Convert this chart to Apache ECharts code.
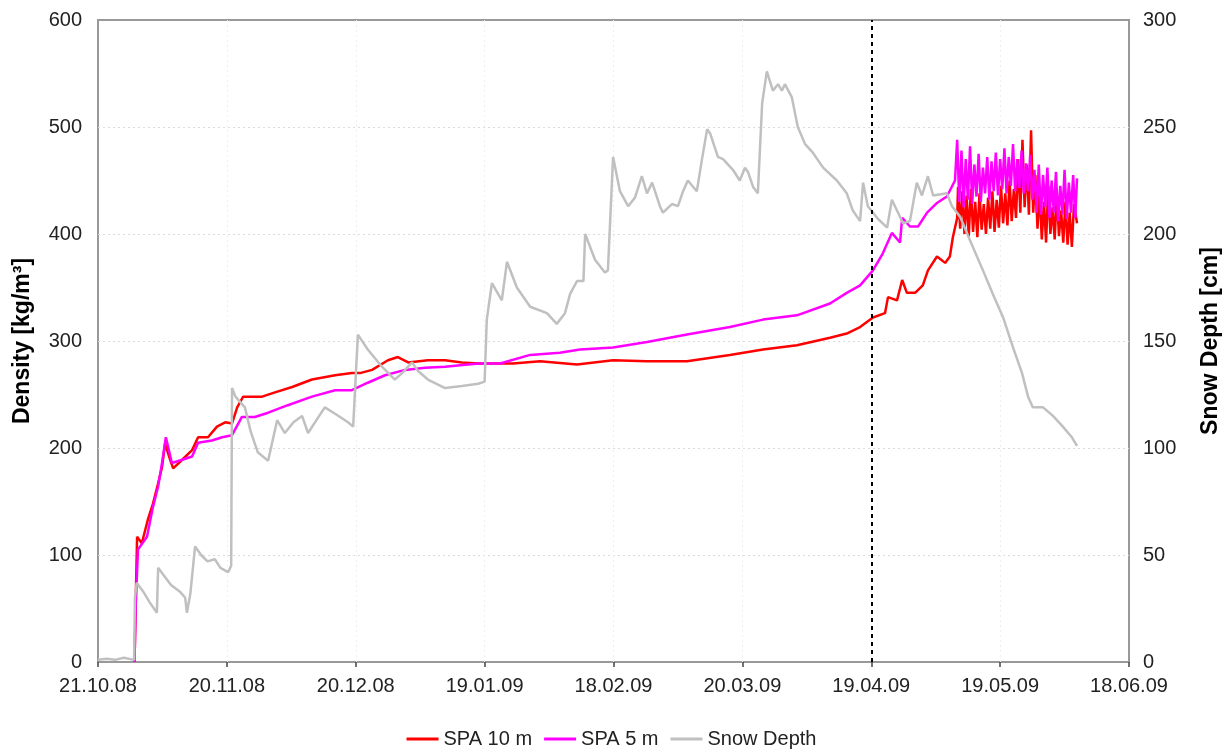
<!DOCTYPE html>
<html>
<head>
<meta charset="utf-8">
<title>Snow density and snow depth</title>
<script src="https://cdn.jsdelivr.net/npm/echarts@6/dist/echarts.min.js"></script>
<style>
  html, body { margin: 0; padding: 0; background: #fff; }
  #chart { width: 1223px; height: 751px; }
</style>
</head>
<body>
<div id="chart"></div>
<script>
// Days are counted from 21.10.08; every tick is 30 days apart.
const tickLabels = ['21.10.08', '20.11.08', '20.12.08', '19.01.09', '18.02.09',
                    '20.03.09', '19.04.09', '19.05.09', '18.06.09'];
const tickStepDays = 30;
const markerDay = 180; // 19.04.09

// SPA 10 m density [kg/m3] as [day, value]
const spa10 = [
  [8.5,0],[8.8,60],[9.1,117],[10.2,111],[11.6,133],[12.8,148],[14.0,167],[14.9,182],[15.6,204],
  [16.8,189],[17.5,181],[19.6,189],[21.9,198],[23.3,210],[25.6,210],[27.7,220],[29.6,224],
  [31.2,223],[32.4,238],[33.8,248],[38.2,248],[41.2,252],[45.2,257],[49.8,264],[55.2,268],
  [59.1,270],[61,270],[63.8,273],[67.5,282],[69.8,285],[72.2,280],[76.8,282],[80.8,282],
  [84.7,280],[88.5,279],[92.4,279],[96.6,279],[102.9,281],[111.5,278],[119.9,282],[127.8,281],
  [137.1,281],[147.1,287],[154.8,292],[162.7,296],[170.4,303],[174.3,307],[177.4,313],
  [180.4,322],[183.2,326],[183.9,341],[186.0,338],[187.2,357],[188.3,345],[190.2,345],
  [192.0,352],[193.2,366],[195.3,379],[197.2,373],[198.3,379],[199.0,397],[200.0,415],
  [200.2,444],[200.7,405],[201.2,440],[201.7,400],[202.2,436],[202.7,398],[203.2,442],
  [203.7,402],[204.2,430],[204.7,397],[205.2,438],[205.7,404],[206.2,428],[206.7,400],
  [207.2,434],[207.7,405],[208.2,440],[208.7,402],[209.2,432],[209.7,406],[210.2,445],
  [210.7,410],[211.2,438],[211.7,408],[212.2,450],[212.7,412],[213.2,442],[213.7,415],
  [214.2,470],[214.7,420],[215.2,488],[215.7,425],[216.2,465],[216.7,418],[217.2,497],
  [217.7,420],[218.2,455],[218.7,405],[219.2,440],[219.7,395],[220.2,430],[220.7,392],
  [221.2,445],[221.7,400],[222.2,425],[222.7,395],[223.2,438],[223.7,398],[224.2,422],
  [224.7,392],[225.2,430],[225.7,390],[226.2,420],[226.7,388],[227.2,428],[227.9,410]
];

// SPA 5 m density [kg/m3] as [day, value]
const spa5 = [
  [8.5,0],[8.8,55],[9.3,105],[11.4,117],[12.8,145],[14.0,164],[14.9,186],[15.8,210],
  [17.2,186],[19.6,189],[21.9,192],[23.3,205],[26.5,207],[28.9,210],[31.2,212],[33.5,229],
  [36.5,229],[39.6,233],[44.2,240],[49.8,248],[55.2,254],[59.1,254],[62.8,261],[66.8,268],
  [71.5,273],[76.1,275],[80.8,276],[86.1,278],[88.9,279],[93.6,279],[100.6,287],[107.5,289],
  [112.2,292],[119.9,294],[127.8,299],[137.1,306],[147.1,313],[154.8,320],[162.7,324],
  [170.4,335],[174.3,345],[177.4,352],[180.4,366],[182.7,382],[184.8,401],[186.7,392],
  [187.2,415],[189.0,407],[190.9,407],[193.0,420],[195.3,429],[197.6,435],[199.5,450],
  [200.0,488],[200.5,430],[201.0,478],[201.5,425],[202.0,470],[202.5,432],[203.0,482],
  [203.5,428],[204.0,465],[204.5,435],[205.0,475],[205.5,430],[206.0,462],[206.5,438],
  [207.0,472],[207.5,432],[208.0,468],[208.5,440],[209.0,476],[209.5,436],[210.0,470],
  [210.5,442],[211.0,480],[211.5,438],[212.0,472],[212.5,445],[213.0,484],[213.5,440],
  [214.0,470],[214.5,443],[215.0,478],[215.5,438],[216.0,466],[216.5,440],[217.0,474],
  [217.5,432],[218.0,460],[218.5,420],[219.0,465],[219.5,418],[220.0,455],[220.5,425],
  [221.0,462],[221.5,415],[222.0,450],[222.5,420],[223.0,458],[223.5,412],[224.0,445],
  [224.5,418],[225.0,460],[225.5,414],[226.0,448],[226.5,420],[227.0,455],[227.5,415],
  [227.9,452]
];

// Snow depth [cm] as [day, value]
const snowDepth = [
  [0,1],[2,1.5],[4,1],[6,2],[8.4,1],[8.6,30],[9.0,37],[10.5,33],[12,28],[13.7,23],[14.0,44],
  [15.5,40],[17,36],[19,33],[20.3,30],[20.7,23],[21.5,32],[22.6,54],[24,50],[25.5,47],
  [27.2,48],[28.5,44],[30.3,42],[31.0,45],[31.2,128],[32,124],[34.2,119],[35.5,108],
  [37.2,98],[39.6,94],[41.7,113],[43.5,107],[45.5,112],[47.5,115],[48.9,107],[50.5,112],
  [52.8,119],[55.2,116],[58.2,112],[59.4,110],[60.5,153],[62.8,146],[66.1,138],[69.1,132],
  [70.8,135],[73.1,140],[74.5,136],[76.8,132],[80.8,128],[84.7,129],[88.5,130],[90.0,131],
  [90.5,160],[91.7,177],[94.0,169],[95.2,187],[97.5,175],[100.6,166],[104.5,163],[106.8,158],
  [108.7,163],[109.9,172],[111.5,178],[113.0,178],[113.4,200],[115.7,188],[118.0,182],
  [118.7,183],[119.9,236],[121.5,220],[123.4,213],[125.0,217],[126.6,227],[127.8,219],
  [129.0,224],[130.8,213],[131.5,210],[133.6,214],[135.0,213],[136.2,220],[137.3,225],
  [139.4,220],[140.6,235],[141.8,249],[142.5,247],[144.3,236],[145.5,235],[147.8,230],
  [149.4,225],[150.6,231],[151.3,229],[152.5,222],[153.6,219],[154.6,261],[155.7,276],
  [157.1,267],[158.3,270],[159.2,267],[159.9,270],[161.5,264],[162.9,250],[164.6,242],
  [166.4,238],[168.8,231],[172.0,225],[174.3,219],[175.7,211],[177.4,206],[178.1,224],
  [179.2,213],[181.6,207],[183.7,203],[184.8,216],[187.4,205],[189.0,206],[190.6,224],
  [191.8,218],[193.2,227],[194.4,218],[197.6,219],[198.8,213],[200.7,208],[203.0,197],
  [206.0,183],[208.3,172],[210.7,161],[213.0,147],[215.1,135],[216.5,124],[217.6,119],
  [220.0,119],[222.3,115],[224.6,110],[226.7,105],[227.9,101]
];

const FONT = 'Liberation Sans, Arial, sans-serif';
const labelStyle = { color: '#222', fontSize: 20, fontFamily: FONT };
const nameStyle = { color: '#000', fontSize: 23, fontWeight: 'bold', fontFamily: FONT };

const chart = echarts.init(document.getElementById('chart'), null, { renderer: 'canvas' });

chart.setOption({
  animation: false,
  backgroundColor: '#fff',
  grid: {
    left: 98, right: 94, top: 20, bottom: 89,
    outerBoundsMode: 'none',
    containLabel: false,
    show: true, borderColor: '#999', borderWidth: 2, backgroundColor: 'transparent'
  },
  legend: {
    top: 724,
    left: 'center',
    icon: 'rect',
    itemWidth: 32,
    itemHeight: 3,
    itemGap: 12,
    textStyle: labelStyle,
    data: ['SPA 10 m', 'SPA 5 m', 'Snow Depth']
  },
  xAxis: {
    type: 'value',
    min: 0,
    max: tickStepDays * (tickLabels.length - 1),
    interval: tickStepDays,
    axisLine: { show: false },
    axisTick: { show: true, length: 5, lineStyle: { color: '#444', width: 1.5 } },
    axisLabel: {
      ...labelStyle,
      margin: 14,
      formatter: v => tickLabels[Math.round(v / tickStepDays)] || ''
    },
    splitLine: {
      show: true, showMinLine: false, showMaxLine: false,
      lineStyle: { color: '#efefef', type: [2, 3], width: 1 }
    }
  },
  yAxis: [
    {
      type: 'value',
      min: 0, max: 600, interval: 100,
      name: 'Density [kg/m³]',
      nameLocation: 'middle',
      nameGap: 64,
      nameTextStyle: nameStyle,
      axisLine: { show: false },
      axisTick: { show: false },
      axisLabel: { ...labelStyle, margin: 16 },
      splitLine: {
        show: true, showMinLine: false, showMaxLine: false,
        lineStyle: { color: '#dcdcdc', type: [2, 3], width: 1 }
      }
    },
    {
      type: 'value',
      min: 0, max: 300, interval: 50,
      name: 'Snow Depth [cm]',
      nameLocation: 'middle',
      nameGap: 70,
      nameTextStyle: nameStyle,
      axisLine: { show: false },
      axisTick: { show: false },
      axisLabel: { ...labelStyle, margin: 14 },
      splitLine: { show: false }
    }
  ],
  series: [
    {
      name: 'SPA 10 m',
      type: 'line',
      yAxisIndex: 0,
      data: spa10,
      symbol: 'none',
      lineStyle: { color: '#ff0000', width: 2.5 },
      itemStyle: { color: '#ff0000' },
      z: 2,
      markLine: {
        silent: true,
        symbol: ['none', 'none'],
        label: { show: false },
        lineStyle: { color: '#000', type: [4, 4], width: 2 },
        data: [{ xAxis: markerDay }]
      }
    },
    {
      name: 'SPA 5 m',
      type: 'line',
      yAxisIndex: 0,
      data: spa5,
      symbol: 'none',
      lineStyle: { color: '#ff00ff', width: 2.5 },
      itemStyle: { color: '#ff00ff' },
      z: 3
    },
    {
      name: 'Snow Depth',
      type: 'line',
      yAxisIndex: 1,
      data: snowDepth,
      symbol: 'none',
      lineStyle: { color: '#c0c0c0', width: 2.5 },
      itemStyle: { color: '#c0c0c0' },
      z: 4
    }
  ]
});
</script>
</body>
</html>
